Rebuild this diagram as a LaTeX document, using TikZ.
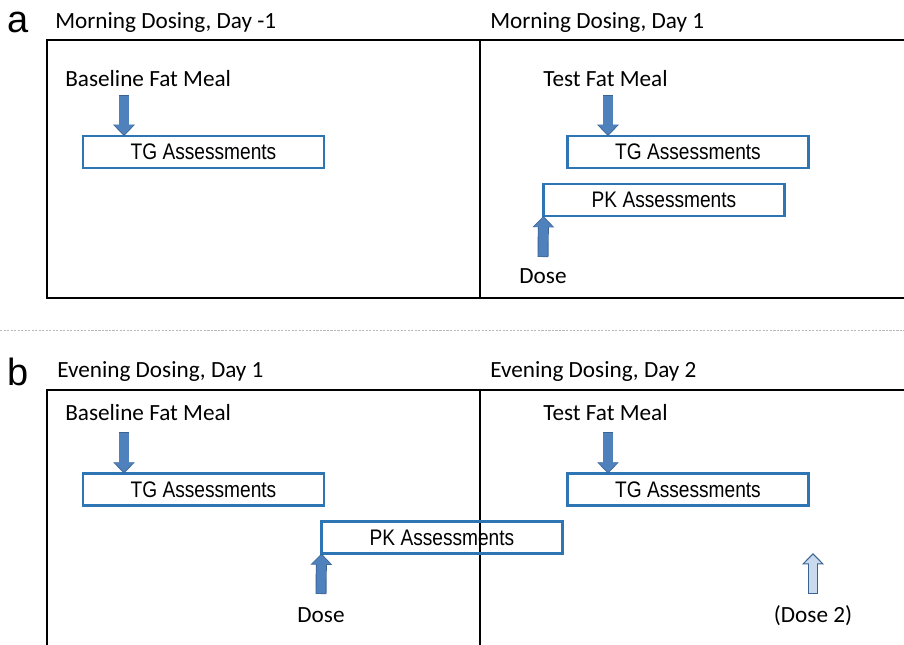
\documentclass[tikz,border=0pt]{standalone}
\usepackage{fontspec}
\setmainfont{Carlito}
\newfontfamily\arialfont{Liberation Sans}
\newfontfamily\boxfont[FakeStretch=0.85]{Liberation Sans}
\usetikzlibrary{calc}
\usetikzlibrary{arrows.meta}
\definecolor{boxblue}{HTML}{2E75B6}
\definecolor{arrowfill}{HTML}{4F81BD}
\definecolor{arrowedge}{HTML}{3A6394}
\definecolor{lightfill}{HTML}{C9D9EE}
\tikzset{>=latex}
\tikzstyle{assess} = [rectangle, draw=boxblue, line width=1.8pt, minimum width=6.025cm, minimum height=0.8cm, outer sep=0pt, inner sep=0pt, font=\boxfont\fontsize{16}{18}\selectfont]
\tikzstyle{lbl} = [anchor=base west, inner sep=0pt, font=\fontsize{16.5}{19}\selectfont]
\tikzstyle{dlbl} = [anchor=base, inner sep=0pt, font=\fontsize{16.5}{19}\selectfont]
\tikzstyle{panel} = [anchor=base west, inner sep=0pt, font=\arialfont\fontsize{27}{30}\selectfont]
\tikzstyle{fat} = [-{Triangle[width=13pt,length=6.8pt]}, line width=6.5pt, draw=arrowfill, shorten >=0.9pt, shorten <=0.5pt, preaction={draw=arrowedge, line width=7.8pt, shorten >=0pt, shorten <=0pt, -{Triangle[width=15pt,length=8pt]}}]
\tikzstyle{hollow} = [-{Triangle[width=11.5pt,length=6pt]}, line width=5pt, draw=lightfill, shorten >=1.3pt, shorten <=0.8pt, preaction={draw=arrowedge, line width=7.2pt, shorten >=0pt, shorten <=0pt, -{Triangle[width=15pt,length=8pt]}}]

\begin{document}
\begin{tikzpicture}[x=0.025cm, y=-0.025cm]
\clip (0,0) rectangle (904,645);
% a: morning dosing
\node [panel] (pa) at (7,32) {a};
\node [lbl] (ta1) at (55,28) {Morning Dosing, Day -1};
\node [lbl] (ta2) at (490,28) {Morning Dosing, Day 1};
\draw [line width=1.6pt] (47,40) rectangle (930,298);
\draw [line width=1.6pt] (480,40) -- (480,298);
\node [lbl] (ma1) at (65,86) {Baseline Fat Meal};
\node [lbl] (ma2) at (543,86) {Test Fat Meal};
\node [assess] (tga1) at (203.5,152) {TG Assessments};
\node [assess] (tga2) at (688,152) {TG Assessments};
\node [assess] (pka) at (664,200) {PK Assessments};
\node [dlbl] (da) at (543,283) {Dose};
\coordinate (fa1) at (124,95);
\coordinate (fa2) at (608,95);
\coordinate (sa) at (543,257);
\draw [fat] (fa1) -- (fa1 |- tga1.north);
\draw [fat] (fa2) -- (fa2 |- tga2.north);
\draw [fat] (sa) -- (pka.south west);
% separator
\draw [gray!55, line width=0.6pt, dash pattern=on 1.5pt off 1pt] (0,330) -- (904,330);
% b: evening dosing
\node [panel] (pb) at (7,385) {b};
\node [lbl] (tb1) at (57,377) {Evening Dosing, Day 1};
\node [lbl] (tb2) at (490,377) {Evening Dosing, Day 2};
\draw [line width=1.6pt] (47,390) rectangle (930,700);
\draw [line width=1.6pt] (480,390) -- (480,700);
\node [lbl] (mb1) at (65,420) {Baseline Fat Meal};
\node [lbl] (mb2) at (543,420) {Test Fat Meal};
\node [assess] (tgb1) at (203.5,489.5) {TG Assessments};
\node [assess] (tgb2) at (688,489.5) {TG Assessments};
\node [assess] (pkb) at (442,537.5) {PK Assessments};
\node [dlbl] (db) at (321,622) {Dose};
\node [dlbl] (db2) at (813,622) {(Dose 2)};
\coordinate (fb1) at (124,432);
\coordinate (fb2) at (608,432);
\coordinate (sb) at (321,594);
\coordinate (sb2) at (813,594);
\coordinate (eb2) at (813,553);
\draw [fat] (fb1) -- (fb1 |- tgb1.north);
\draw [fat] (fb2) -- (fb2 |- tgb2.north);
\draw [fat] (sb) -- (pkb.south west);
\draw [hollow] (sb2) -- (eb2);
\end{tikzpicture}
\end{document}
